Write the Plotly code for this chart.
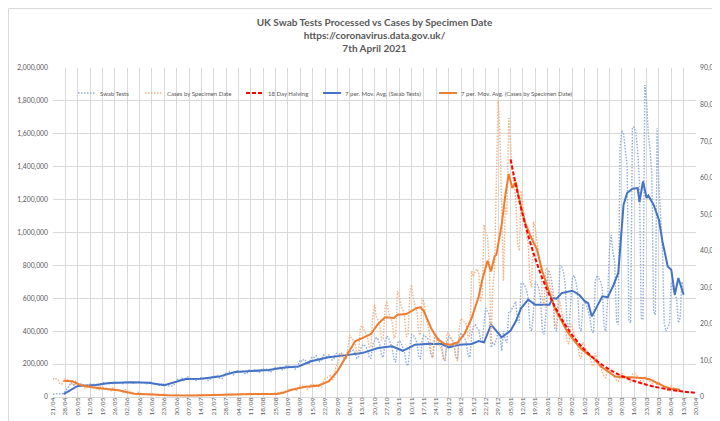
import pandas as pd
import plotly.graph_objects as go

start_date = '2020-04-21'

# Daily swab tests processed (left axis), one value per day from 21/04/2020 (weeks Tue..Mon)
swab_tests = [
    17000, 19000, 20000, 21000, 18000, 17000, 24000,
    35000, 48000, 62000, 88000, 82000, 70000, 80000,
    70000, 74000, 80000, 73000, 72000, 62000, 75000,
    80000, 74000, 78000, 70000, 72000, 68000, 78000,
    82000, 88000, 85000, 82000, 80000, 78000, 90000,
    92000, 85000, 88000, 86000, 80000, 82000, 93000,
    90000, 94000, 88000, 85000, 82000, 88000, 95000,
    92000, 86000, 84000, 88000, 80000, 82000, 96000,
    85000, 80000, 76000, 78000, 70000, 72000, 85000,
    70000, 72000, 68000, 65000, 66000, 70000, 80000,
    100000, 110000, 105000, 115000, 100000, 105000, 125000,
    115000, 112000, 110000, 108000, 100000, 105000, 118000,
    118000, 112000, 120000, 110000, 100000, 108000, 122000,
    130000, 124000, 128000, 118000, 110000, 115000, 135000,
    150000, 140000, 155000, 148000, 135000, 140000, 160000,
    160000, 152000, 158000, 150000, 140000, 148000, 165000,
    162000, 158000, 165000, 160000, 150000, 152000, 168000,
    172000, 165000, 168000, 160000, 150000, 158000, 175000,
    180000, 175000, 185000, 178000, 165000, 172000, 190000,
    190000, 185000, 180000, 188000, 170000, 175000, 200000,
    225000, 215000, 230000, 220000, 200000, 205000, 235000,
    245000, 240000, 250000, 235000, 215000, 225000, 255000,
    250000, 245000, 255000, 250000, 225000, 230000, 265000,
    265000, 260000, 270000, 255000, 230000, 240000, 275000,
    280000, 275000, 285000, 270000, 235000, 245000, 290000,
    310000, 320000, 305000, 290000, 240000, 235000, 320000,
    340000, 360000, 350000, 320000, 250000, 240000, 340000,
    370000, 360000, 330000, 300000, 230000, 210000, 330000,
    340000, 330000, 300000, 270000, 200000, 190000, 300000,
    380000, 375000, 360000, 330000, 250000, 230000, 350000,
    375000, 370000, 360000, 320000, 255000, 240000, 355000,
    370000, 360000, 350000, 320000, 230000, 220000, 330000,
    365000, 360000, 350000, 320000, 240000, 230000, 360000,
    390000, 370000, 360000, 330000, 250000, 240000, 380000,
    430000, 440000, 420000, 410000, 350000, 330000, 450000,
    540000, 520000, 500000, 300000, 330000, 320000, 350000,
    400000, 380000, 280000, 400000, 350000, 330000, 520000,
    520000, 540000, 560000, 580000, 470000, 450000, 690000,
    690000, 680000, 650000, 600000, 420000, 400000, 520000,
    700000, 690000, 660000, 600000, 400000, 380000, 500000,
    770000, 760000, 720000, 650000, 420000, 400000, 540000,
    800000, 790000, 760000, 680000, 440000, 410000, 560000,
    720000, 740000, 700000, 640000, 420000, 400000, 560000,
    580000, 560000, 520000, 480000, 400000, 390000, 700000,
    740000, 720000, 700000, 660000, 420000, 400000, 600000,
    900000, 985000, 880000, 820000, 460000, 440000, 1520000,
    1620000, 1600000, 1500000, 1400000, 470000, 450000, 1640000,
    1640000, 1600000, 1500000, 1300000, 480000, 470000, 1897000,
    1805000, 1600000, 1500000, 1350000, 520000, 500000, 1635000,
    1283000, 1100000, 900000, 450000, 400000, 420000, 450000,
    700000, 650000, 620000, 600000, 450000, 480000, 700000,
    650000,
]

# Daily cases by specimen date (right axis), one value per day from 21/04/2020
cases = [
    4800, 5200, 4900, 4600, 3600, 3500, 4600,
    5000, 4800, 4600, 4200, 3400, 3300, 4300,
    3600, 3400, 3300, 3100, 2500, 2400, 3300,
    3000, 2800, 2700, 2600, 2100, 2000, 2900,
    2600, 2500, 2400, 2300, 1800, 1700, 2500,
    2100, 2000, 1900, 1800, 1400, 1300, 2000,
    1600, 1400, 1300, 1200, 900, 800, 1300,
    1100, 1000, 950, 900, 700, 650, 1000,
    850, 800, 750, 700, 500, 500, 800,
    700, 650, 600, 550, 400, 400, 600,
    600, 550, 500, 500, 350, 350, 550,
    550, 550, 500, 500, 350, 350, 550,
    600, 600, 550, 550, 400, 400, 600,
    750, 700, 650, 700, 500, 500, 800,
    850, 800, 800, 800, 600, 600, 900,
    950, 900, 850, 850, 650, 650, 950,
    950, 900, 900, 850, 650, 600, 950,
    950, 900, 900, 850, 650, 600, 1000,
    1200, 1200, 1300, 1300, 1000, 1000, 1700,
    2000, 2100, 2100, 2200, 1700, 1800, 2800,
    3100, 3000, 2900, 2800, 2200, 2300, 3400,
    3500, 3300, 3400, 3200, 2600, 2700, 4400,
    5000, 5200, 5600, 5800, 4600, 5000, 8000,
    9000, 10500, 11500, 12000, 10000, 10500, 14500,
    17000, 16000, 15500, 15000, 12000, 12500, 19000,
    19500, 18500, 17500, 16500, 13500, 14000, 22000,
    25300, 22000, 21000, 19500, 15500, 16000, 24500,
    26200, 23000, 22000, 20500, 16000, 17000, 29000,
    27500, 25000, 24000, 22000, 16500, 17000, 28500,
    30700, 27000, 25000, 23500, 17500, 17000, 27100,
    26000, 22000, 20000, 18000, 12500, 10700, 17500,
    16500, 15000, 14000, 13000, 10500, 10000, 17500,
    17500, 16000, 15500, 14500, 11000, 9800, 19000,
    21500, 21000, 20500, 20000, 16000, 17000, 34500,
    33000, 34400, 35000, 34000, 26000, 28000, 47100,
    45000, 44000, 36000, 14300, 30000, 35000, 60000,
    81300, 72000, 55000, 31700, 52000, 50000, 76300,
    68000, 62000, 58000, 54000, 42000, 40000, 56400,
    52000, 48000, 45000, 42000, 32000, 30000, 48000,
    46000, 42000, 39000, 36000, 27000, 25000, 35300,
    35000, 31000, 29000, 27000, 20000, 19000, 26300,
    26000, 23000, 21000, 19500, 15000, 14500, 20000,
    19000, 17000, 15500, 14500, 11000, 10500, 15000,
    14000, 12500, 12000, 11000, 8800, 8500, 12000,
    10000, 9000, 8000, 7000, 5500, 5300, 7800,
    7000, 6500, 6000, 5500, 4500, 4300, 6000,
    6500, 6000, 5500, 5300, 4300, 4000, 6200,
    6500, 6000, 5600, 5200, 4000, 3800, 5600,
    5400, 4600, 4200, 3800, 2800, 2600, 3600,
    4000, 3500, 3200, 2400, 2000, 1800, 2000,
    3000, 2600, 2400, 2200, 1500, 1400,
]

# 7 period moving average of swab tests
swab_ma_dates = [
    '2020-04-27', '2020-05-05', '2020-05-15', '2020-05-23', '2020-06-05', '2020-06-14',
    '2020-06-23', '2020-07-01', '2020-07-05', '2020-07-14', '2020-07-24', '2020-08-02',
    '2020-08-12', '2020-08-21', '2020-08-30', '2020-09-07', '2020-09-14', '2020-09-24',
    '2020-10-03', '2020-10-13', '2020-10-22', '2020-10-30', '2020-11-05', '2020-11-12',
    '2020-11-20', '2020-11-27', '2020-12-01', '2020-12-07', '2020-12-14', '2020-12-18',
    '2020-12-21', '2020-12-25', '2020-12-31', '2021-01-05', '2021-01-08', '2021-01-11',
    '2021-01-15', '2021-01-19', '2021-01-27', '2021-01-29', '2021-01-31', '2021-02-03',
    '2021-02-09', '2021-02-13', '2021-02-16', '2021-02-18', '2021-02-20', '2021-02-22',
    '2021-02-26', '2021-03-01', '2021-03-04', '2021-03-07', '2021-03-08', '2021-03-09',
    '2021-03-10', '2021-03-12', '2021-03-15', '2021-03-18', '2021-03-19', '2021-03-21',
    '2021-03-23', '2021-03-24', '2021-03-27', '2021-03-30', '2021-04-01', '2021-04-04',
    '2021-04-06', '2021-04-08', '2021-04-10', '2021-04-13',
]
swab_ma = [
    18000, 67000, 73000, 85000, 89000, 87000,
    71000, 95000, 109000, 111000, 124000, 152000,
    158000, 164000, 180000, 186000, 217000, 241000,
    253000, 267000, 298000, 308000, 281000, 318000,
    324000, 322000, 302000, 318000, 322000, 340000,
    332000, 440000, 363000, 403000, 460000, 541000,
    592000, 561000, 561000, 602000, 598000, 632000,
    646000, 620000, 582000, 571000, 490000, 531000,
    612000, 606000, 673000, 754000, 900000, 1060000,
    1169000, 1240000, 1266000, 1270000, 1185000, 1311000,
    1210000, 1224000, 1169000, 1078000, 946000, 794000,
    774000, 622000, 723000, 622000,
]

# 7 period moving average of cases
cases_ma_dates = [
    '2020-04-27', '2020-05-02', '2020-05-07', '2020-05-13', '2020-05-20', '2020-05-28',
    '2020-06-06', '2020-06-16', '2020-06-25', '2020-07-10', '2020-07-20', '2020-07-27',
    '2020-08-12', '2020-08-21', '2020-08-26', '2020-08-30', '2020-09-03', '2020-09-11',
    '2020-09-18', '2020-09-24', '2020-09-29', '2020-10-04', '2020-10-09', '2020-10-14',
    '2020-10-18', '2020-10-22', '2020-10-26', '2020-10-31', '2020-11-02', '2020-11-07',
    '2020-11-10', '2020-11-13', '2020-11-15', '2020-11-17', '2020-11-21', '2020-11-25',
    '2020-11-29', '2020-12-02', '2020-12-06', '2020-12-10', '2020-12-14', '2020-12-18',
    '2020-12-20', '2020-12-23', '2020-12-25', '2020-12-27', '2020-12-28', '2020-12-31',
    '2021-01-02', '2021-01-04', '2021-01-06', '2021-01-08', '2021-01-10', '2021-01-13',
    '2021-01-16', '2021-01-20', '2021-01-23', '2021-01-26', '2021-01-30', '2021-02-03',
    '2021-02-06', '2021-02-10', '2021-02-14', '2021-02-18', '2021-02-21', '2021-02-25',
    '2021-03-01', '2021-03-05', '2021-03-08', '2021-03-14', '2021-03-22', '2021-03-25',
    '2021-03-29', '2021-04-02', '2021-04-06', '2021-04-11',
]
cases_ma = [
    4460, 4290, 3200, 2650, 2280, 1830,
    900, 640, 460, 400, 420, 640,
    820, 820, 850, 1280, 2000, 2820,
    3100, 4290, 7030, 11130, 15240, 16330,
    17240, 19970, 21800, 21600, 22500, 22700,
    23440, 24350, 24550, 23440, 18880, 15680,
    14500, 14310, 14900, 17300, 21600, 27500,
    32100, 37300, 34380, 38500, 38900, 47140,
    55000, 61000, 57180, 58820, 53990, 48070,
    44400, 40300, 34380, 29820, 24350, 20710,
    17970, 15410, 13200, 11600, 10670, 8390,
    7030, 5660, 5390, 5390, 5100, 4800,
    3830, 2920, 2280, 2000,
]

# 18 day halving guide line (right axis) at weekly points
halving_dates = [
    '2021-01-05', '2021-01-12', '2021-01-19', '2021-01-26', '2021-02-02', '2021-02-09',
    '2021-02-16', '2021-02-23', '2021-03-02', '2021-03-09', '2021-03-16', '2021-03-23',
    '2021-03-30', '2021-04-06', '2021-04-13', '2021-04-20',
]
halving = [
    65000, 49640, 37910, 28950, 22110, 16890,
    12900, 9850, 7520, 5745, 4390, 3350,
    2560, 1955, 1490, 1140,
]

# Legend labels in the order shown on the chart
legend_labels = [
    'Swab Tests',
    'Cases by Specimen Date',
    '18 Day Halving',
    '7 per. Mov. Avg. (Swab Tests)',
    '7 per. Mov. Avg. (Cases by Specimen Date)',
]

swab_dates = pd.date_range(start_date, periods=len(swab_tests), freq='D')
case_dates = pd.date_range(start_date, periods=len(cases), freq='D')

GREY = '#595959'
GRID = '#D9D9D9'
FONT = 'Lato'

styles = {
    legend_labels[0]: dict(color='#8FAADC', width=1.4, dash='1.5px,1.5px'),
    legend_labels[1]: dict(color='#F4B183', width=1.4, dash='1.5px,1.5px'),
    legend_labels[2]: dict(color='#FF0000', width=2, dash='4px,2px'),
    legend_labels[3]: dict(color='#4472C4', width=2, dash='solid'),
    legend_labels[4]: dict(color='#ED7D31', width=2, dash='solid'),
}

fig = go.Figure()
fig.add_trace(go.Scatter(
    x=swab_dates, y=swab_tests, name=legend_labels[0], mode='lines',
    line=styles[legend_labels[0]], showlegend=False))
fig.add_trace(go.Scatter(
    x=swab_ma_dates, y=swab_ma, name=legend_labels[3], mode='lines',
    line=styles[legend_labels[3]], showlegend=False))
fig.add_trace(go.Scatter(
    x=case_dates, y=cases, name=legend_labels[1], mode='lines', yaxis='y2',
    line=styles[legend_labels[1]], showlegend=False))
fig.add_trace(go.Scatter(
    x=cases_ma_dates, y=cases_ma, name=legend_labels[4], mode='lines', yaxis='y2',
    line=styles[legend_labels[4]], showlegend=False))
fig.add_trace(go.Scatter(
    x=halving_dates, y=halving, name=legend_labels[2], mode='lines', yaxis='y2',
    line=dict(**styles[legend_labels[2]], shape='spline'), showlegend=False))

L, R, T, B = 45, 32, 60, 32
W, H = 720, 421
pw, ph = W - L - R, H - T - B


def px_x(p):
    return (p - L) / pw


def px_y(p):
    return (H - B - p) / ph


# Legend drawn as line samples + text (positions in pixels)
legend_symbol_x = [70, 137, 238, 315, 431]
legend_y = px_y(85)
shapes = []
annotations = []
for lab, sx in zip(legend_labels, legend_symbol_x):
    st = styles[lab]
    shapes.append(dict(
        type='line', xref='paper', yref='paper',
        x0=px_x(sx), x1=px_x(sx + 18), y0=legend_y, y1=legend_y,
        line=dict(color=st['color'], width=st['width'], dash=st['dash'])))
    annotations.append(dict(
        text=lab, xref='paper', yref='paper', x=px_x(sx + 20), y=legend_y,
        xanchor='left', yanchor='middle', showarrow=False,
        font=dict(family=FONT, size=6, color=GREY)))

shapes.append(dict(
    type='rect', xref='paper', yref='paper', layer='below',
    x0=px_x(0.5), x1=px_x(W - 0.5), y0=px_y(H - 0.5), y1=px_y(0.5),
    line=dict(color=GRID, width=1), fillcolor='rgba(0,0,0,0)'))

fig.update_layout(
    width=W, height=H,
    margin=dict(l=L, r=R, t=T, b=B, autoexpand=False),
    paper_bgcolor='white', plot_bgcolor='white',
    font=dict(family=FONT, color=GREY, size=6),
    showlegend=False,
    title=dict(
        text='<b>UK Swab Tests Processed vs Cases by Specimen Date<br>'
             'https://coronavirus.data.gov.uk/<br>7th April 2021</b>',
        x=0.5, xref='paper', xanchor='center',
        y=1 - 17.5 / H, yref='container', yanchor='middle',
        font=dict(family=FONT, size=10, color=GREY)),
    xaxis=dict(
        type='date', range=['2020-04-21', '2021-04-20'],
        tick0='2020-04-21', dtick=7 * 86400000, tickformat='%d/%m', tickangle=-90,
        showgrid=True, gridcolor=GRID, gridwidth=1, zeroline=False,
        showline=True, linecolor=GRID, linewidth=1, ticks='', ticklabelstandoff=-3,
        tickfont=dict(family=FONT, size=6.5, color=GREY)),
    yaxis=dict(
        range=[0, 2000000], dtick=200000, tickformat=',d',
        showgrid=True, gridcolor=GRID, gridwidth=1, zeroline=False,
        ticks='', ticklabelstandoff=4,
        tickfont=dict(family=FONT, size=6.8, color=GREY)),
    yaxis2=dict(
        overlaying='y', side='right', range=[0, 90000], dtick=10000, tickformat=',d',
        showgrid=False, zeroline=False, ticks='', ticklabelstandoff=3,
        tickfont=dict(family=FONT, size=6.8, color=GREY)),
    shapes=shapes,
    annotations=annotations,
)

fig.write_html('out.html')
